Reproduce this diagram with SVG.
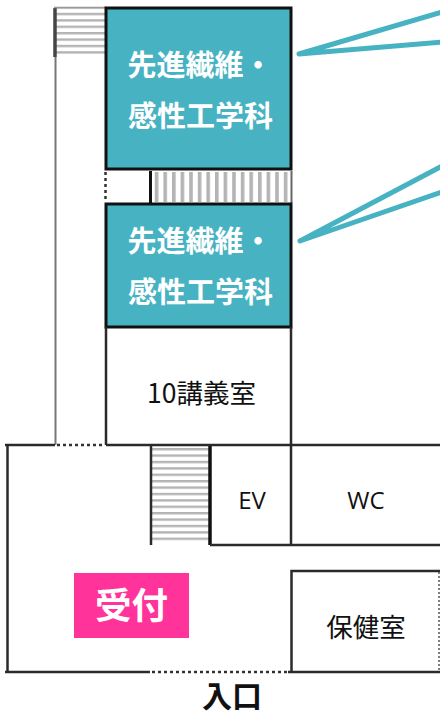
<svg xmlns="http://www.w3.org/2000/svg" width="440" height="716" viewBox="0 0 440 716">
<style>
.w{fill:none;stroke:#2a2a2a;stroke-width:2.5}
.b{fill:none;stroke:#111;stroke-width:3}
.d{fill:none;stroke:#333;stroke-width:2.5;stroke-dasharray:3 3}
.room{fill:#47b2c2;stroke:#111;stroke-width:3}
.lead{fill:none;stroke:#47b2c2;stroke-width:5;stroke-linecap:round;stroke-linejoin:round}
text{font-family:"Noto Sans CJK JP","Noto Sans",sans-serif}
.t{font-size:29px;fill:#fff;font-weight:700;text-anchor:middle}
.k{font-size:26.500px;fill:#111;text-anchor:middle}
.e{font-family:"Open Sans","Noto Sans",sans-serif;font-size:24px;fill:#111;text-anchor:middle}
</style>
<defs>
<pattern id="hs" width="4" height="6.4" patternUnits="userSpaceOnUse"><rect width="4" height="6.4" fill="#fff"/><rect width="4" height="2.4" fill="#b4b4b4"/></pattern>
<pattern id="vs" width="8.6" height="4" patternUnits="userSpaceOnUse"><rect width="8.6" height="4" fill="#fff"/><rect width="3.6" height="4" fill="#b4b4b4"/></pattern>
</defs>
<rect width="440" height="716" fill="#fff"/>
<g id="stair-top">
<rect x="56" y="8" width="50" height="47" fill="url(#hs)"/>
<path d="M55 8V57" fill="none" stroke="#444" stroke-width="3.500"/>
<path d="M54 7.500H106" fill="none" stroke="#999" stroke-width="1.500"/>
</g>
<g id="corridor">
<path d="M55.500 57V445" fill="none" stroke="#777" stroke-width="2"/>
<path d="M57 445H102" class="d"/>
</g>
<g id="stair-mid">
<path d="M105.500 172V202" class="d"/>
<rect x="151" y="172" width="140" height="30" fill="url(#vs)"/>
<path d="M150.500 171V203" class="b"/>
<path d="M291.500 171V203" fill="none" stroke="#666" stroke-width="2"/>
</g>
<g id="room-upper">
<rect x="106" y="8" width="185" height="161" class="room"/>
<text class="t" x="200" y="76">先進繊維・</text>
<text class="t" x="200.500" y="127">感性工学科</text>
</g>
<g id="room-lower">
<rect x="106" y="204" width="185" height="123" class="room"/>
<text class="t" x="200" y="252">先進繊維・</text>
<text class="t" x="200.500" y="303">感性工学科</text>
</g>
<g id="room-10">
<path d="M106 327V445M291 327V445" class="w"/>
<text class="k" x="201.500" y="403">10講義室</text>
</g>
<g id="stair-low">
<rect x="152" y="446" width="58" height="98" fill="url(#hs)"/>
<path d="M151 445V545" class="w"/>
<path d="M210 445V545" class="b" style="stroke-width:3.500"/>
</g>
<g id="ev">
<path d="M210 545H291M291 445V545" class="w"/>
<text class="e" x="252" y="509">EV</text>
</g>
<g id="wc">
<path d="M291 545H440" class="w"/>
<text class="e" x="366" y="509">WC</text>
</g>
<g id="hoken">
<path d="M440 571H291.500V672" class="w"/>
<path d="M439 572V671" fill="none" stroke="#555" stroke-width="1.500" stroke-dasharray="2 2"/>
<text class="k" x="366" y="637">保健室</text>
</g>
<g id="reception">
<rect x="74" y="573" width="115" height="65" fill="#ff3399"/>
<text x="131.500" y="619" style="font-size:36.500px;font-weight:700;fill:#fff;text-anchor:middle">受付</text>
</g>
<g id="outer">
<path d="M5 445H55M106 445H440" class="w"/>
<path d="M7.500 445V672" class="w"/>
<path d="M5 672H150M288 672H440" class="w"/>
<path d="M152 672H287" class="d"/>
</g>
<g id="entrance">
<text x="232" y="707" style="font-size:30px;font-weight:700;fill:#111;text-anchor:middle">入口</text>
</g>
<g id="connectors">
<path class="lead" d="M442 12L299 54L442 42"/>
<path class="lead" d="M442 166L300 241L442 192"/>
</g>
</svg>
